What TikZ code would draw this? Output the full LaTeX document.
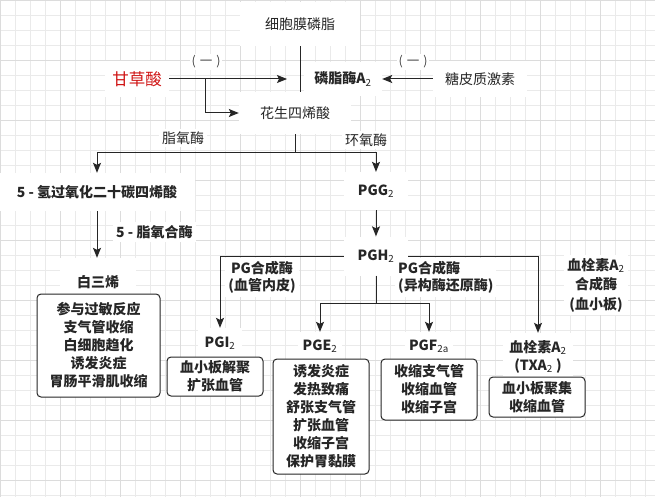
\documentclass[tikz,border=0pt]{standalone}
\usepackage{fontspec}
\setmainfont{Noto Sans CJK SC}
\usetikzlibrary{arrows.meta}
\definecolor{ink}{HTML}{262626}
\definecolor{gridminor}{HTML}{EAEAEA}
\definecolor{gridmajor}{HTML}{DCDCDC}
\definecolor{licred}{HTML}{D01515}
\newcommand{\msub}[1]{\textsubscript{\mdseries #1}}
\newcommand{\fsz}{\fontsize{14}{18}\selectfont}
\newcommand{\minus}{(\hspace{4pt}一\hspace{4pt})}
\begin{document}
\begin{tikzpicture}[x=1pt,y=-1pt,
  every node/.style={text=ink},
  lbl/.style={fill=white, inner sep=0pt, font=\fsz, align=center},
  blbl/.style={lbl, font=\fsz\bfseries},
  bx/.style={draw=ink, line width=1pt, fill=white, rounded corners=4pt, inner sep=0pt, align=center, font=\fsz\bfseries},
  ln/.style={draw=ink, line width=1pt},
  arr/.style={ln, -{Stealth[length=10pt,width=8pt,inset=2pt]}}
]
\useasboundingbox (0,0) rectangle (655,497);
\fill[white] (0,0) rectangle (655,497);
% grid
\foreach \x in {0,15,...,645} \draw[gridminor, line width=0.8pt] (\x,0) -- (\x,497);
\foreach \y in {0,15,...,495} \draw[gridminor, line width=0.8pt] (0,\y) -- (655,\y);
\foreach \x in {0,60,...,600} \draw[gridmajor, line width=0.8pt] (\x,0) -- (\x,497);
\foreach \y in {0,60,...,480} \draw[gridmajor, line width=0.8pt] (0,\y) -- (655,\y);

% top part
\node[lbl, minimum width=120pt, minimum height=44pt] (mem) at (300,24) {细胞膜磷脂};
\node[lbl, text=licred, font=\fontsize{16.5}{20}\selectfont, minimum width=64pt, minimum height=36pt] (gc) at (137,79) {甘草酸};
\node[blbl, minimum width=78pt, minimum height=34pt] (pa2) at (343,79) {磷脂酶A\msub{2}};
\node[lbl, minimum width=94pt, minimum height=36pt] (tp) at (480,79) {糖皮质激素};
\node[lbl, minimum width=112pt, minimum height=42pt] (aa) at (295,113) {花生四烯酸};
\node[lbl, font=\fontsize{12.5}{14}\selectfont, text=ink!85, inner sep=2pt] (m1) at (206,62) {\minus};
\node[lbl, font=\fontsize{12.5}{14}\selectfont, text=ink!85, inner sep=2pt] (m2) at (413,62) {\minus};

\coordinate (pl) at (287,79);
\coordinate (br) at (205,79);
\draw[ln] (mem.south) -- (mem.south |- aa.north);
\draw[arr] (gc.east) -- (pl);
\draw[arr] (br) |- (aa.west);
\draw[arr] (tp.west) -- (pa2.east);

% middle
\node[blbl, minimum width=195pt, minimum height=38pt] (hp) at (97,192) {5 - 氢过氧化二十碳四烯酸};
\node[blbl, minimum width=64pt, minimum height=38pt] (pgg) at (376,191) {PGG\msub{2}};
\node[blbl, minimum width=64pt, minimum height=39pt] (pgh) at (376,256) {PGH\msub{2}};
\node[lbl, inner sep=3pt] (lo) at (183,138) {脂氧酶};
\node[lbl, inner sep=3pt] (co) at (366,140) {环氧酶};

\coordinate (j1) at (295,153);
\draw[ln] (aa.south) -- (j1);
\draw[arr] (j1) -| (hp.north);
\draw[arr] (j1) -| (pgg.north);
\draw[arr] (pgg.south) -- (pgh.north);

% titles of the lower row
\node[blbl, minimum width=76pt, minimum height=48pt] (lt) at (98,282) {白三烯};
\node[blbl, inner sep=3pt, anchor=west] (lox) at (113,232) {5 - 脂氧合酶};
\node[blbl, minimum width=44pt, minimum height=30pt] (pgi) at (220,343) {PGI\msub{2}};
\node[blbl, minimum width=44pt, minimum height=28pt] (pge) at (320,346) {PGE\msub{2}};
\node[blbl, minimum width=48pt, minimum height=28pt] (pgf) at (429,346) {PGF\msub{2a}};
\node[blbl, minimum width=70pt, minimum height=48pt] (txa) at (538,357) {血栓素A\msub{2}\\(TXA\msub{2} )};

\node[blbl, font=\fontsize{14}{17}\selectfont\bfseries, inner sep=3pt] (s1) at (262,277.5) {PG合成酶\\(血管内皮)};
\node[blbl, font=\fontsize{14}{17}\selectfont\bfseries, inner sep=3pt, anchor=west, align=left] (s2) at (395,277.5) {PG合成酶\\(异构酶还原酶)};
\node[blbl, font=\fontsize{14}{19.5}\selectfont\bfseries, inner sep=3pt] (s3) at (596,285) {血栓素A\msub{2}\\合成酶\\(血小板)};

\draw[arr] (hp.south) -- (hp.south |- lt.north);
\draw[arr] (pgh.west) -| (pgi.north);
\draw[arr] (pgh.east) -| (txa.north);
\coordinate (j2) at (376,303);
\draw[ln] (pgh.south) -- (j2);
\draw[arr] (j2) -| (pge.north);
\draw[arr] (j2) -| (pgf.north);

% boxes
\node[bx, minimum width=123pt, minimum height=103pt] (ltb) at (98.5,345.5) {参与过敏反应\\支气管收缩\\白细胞趋化\\诱发炎症\\胃肠平滑肌收缩};
\node[bx, minimum width=96pt, minimum height=39pt] (pgib) at (215,376.5) {血小板解聚\\扩张血管};
\node[bx, minimum width=96pt, minimum height=115pt] (pgeb) at (321,416.5) {诱发炎症\\发热致痛\\舒张支气管\\扩张血管\\收缩子宫\\保护胃黏膜};
\node[bx, minimum width=96pt, minimum height=61pt] (pgfb) at (429,389.5) {收缩支气管\\收缩血管\\收缩子宫};
\node[bx, minimum width=96pt, minimum height=40pt] (txab) at (537,397) {血小板聚集\\收缩血管};
\end{tikzpicture}
\end{document}
